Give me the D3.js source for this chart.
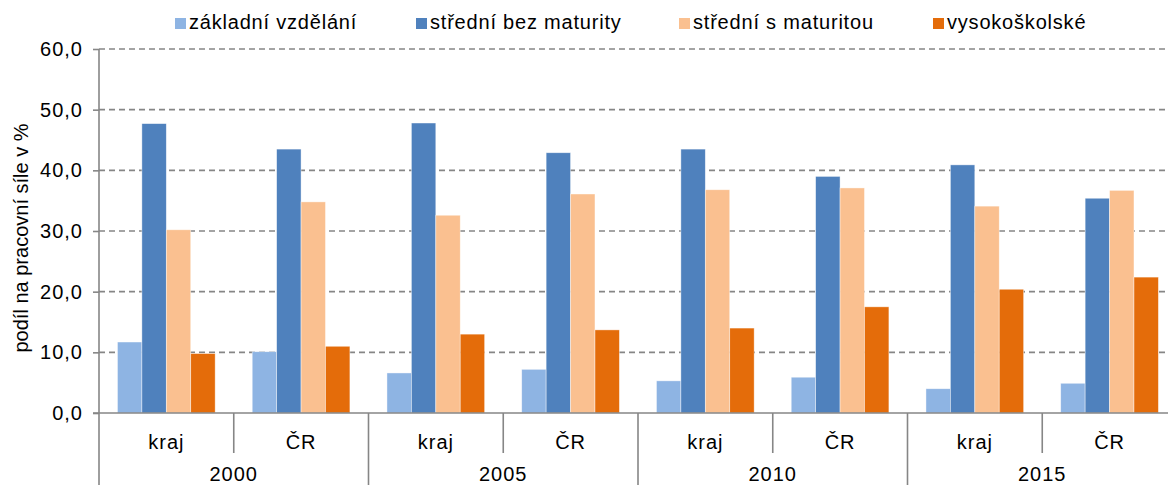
<!DOCTYPE html>
<html>
<head>
<meta charset="utf-8">
<script src="https://cdn.jsdelivr.net/npm/d3@7"></script>
<style>
body { margin: 0; background: #fff; overflow: hidden; }
text { font-family: "Liberation Sans", Arial, sans-serif; fill: #000; }
</style>
</head>
<body>
<svg id="chart"></svg>
<script>
// chart data
var years = ["2000", "2005", "2010", "2015"];
var regions = ["kraj", "ČR"];
var seriesNames = ["základní vzdělání", "střední bez maturity", "střední s maturitou", "vysokoškolské"];
var zakladni = [11.7, 10.1, 6.6, 7.2, 5.3, 5.9, 4.0, 4.9];
var stredniBez = [47.7, 43.5, 47.8, 42.9, 43.5, 39.0, 40.9, 35.4];
var stredniS = [30.2, 34.8, 32.6, 36.1, 36.8, 37.1, 34.1, 36.7];
var vysoko = [9.8, 11.0, 13.0, 13.7, 14.0, 17.5, 20.4, 22.4];
var yTicks = [0, 10, 20, 30, 40, 50, 60];
var colors = ["#8EB4E3", "#4F81BD", "#FAC090", "#E46C0A"];

var allSeries = [zakladni, stredniBez, stredniS, vysoko];

// svg size and plot box (the plot runs past the right edge, like the original crop)
var svgWidth = 1168;
var svgHeight = 485;
var plotLeft = 99, plotRight = 1177, plotTop = 49, plotBottom = 413;
var fontSize = "20px";
var axisGrey = "#868686";

var svg = d3.select("#chart")
    .attr("width", svgWidth)
    .attr("height", svgHeight);

// categories: one per year/region pair
var cats = [];
years.forEach(function (yr) {
    regions.forEach(function (r) { cats.push(yr + "|" + r); });
});

var x0 = d3.scaleBand().domain(cats).range([plotLeft, plotRight]).padding(0);
var bw = x0.bandwidth();
var x1 = d3.scaleBand().domain(d3.range(seriesNames.length))
    .range([bw * 0.137, bw * 0.862]).padding(0);
var y = d3.scaleLinear().domain([0, 60]).range([plotBottom, plotTop]);

// gridlines
svg.append("g").selectAll("line")
    .data(yTicks.filter(function (d) { return d > 0; }))
    .enter().append("line")
    .attr("x1", plotLeft).attr("x2", plotRight)
    .attr("y1", function (d) { return y(d); })
    .attr("y2", function (d) { return y(d); })
    .attr("stroke", axisGrey)
    .attr("stroke-width", 1.6)
    .attr("stroke-dasharray", "6,4");

// bars
var groups = svg.append("g").selectAll("g")
    .data(cats)
    .enter().append("g")
    .attr("transform", function (d) { return "translate(" + x0(d) + ",0)"; });

groups.selectAll("rect")
    .data(function (d, i) {
        return allSeries.map(function (s, k) { return { k: k, v: s[i] }; });
    })
    .enter().append("rect")
    .attr("x", function (d) { return x1(d.k); })
    .attr("width", x1.bandwidth())
    .attr("y", function (d) { return y(d.v); })
    .attr("height", function (d) { return plotBottom - y(d.v); })
    .attr("fill", function (d) { return colors[d.k]; })
    .attr("stroke", "#ffffff")
    .attr("stroke-opacity", 0.6)
    .attr("stroke-width", 0.7);

// y axis
var yAxis = d3.axisLeft(y)
    .tickValues(yTicks)
    .tickSize(6)
    .tickPadding(10)
    .tickFormat(function (d) { return d3.format(".1f")(d).replace(".", ","); });

var yg = svg.append("g")
    .attr("transform", "translate(" + plotLeft + ",0)")
    .call(yAxis);
yg.select(".domain").remove();
yg.selectAll("line").attr("stroke", axisGrey).attr("stroke-width", 1.6);
yg.selectAll("text")
    .style("font-size", fontSize)
    .style("letter-spacing", "1px")
    .style("font-family", "Liberation Sans, Arial, sans-serif")
    .attr("fill", "#000");

// y axis line continues through the category labels
svg.append("line")
    .attr("x1", plotLeft).attr("x2", plotLeft)
    .attr("y1", plotTop).attr("y2", svgHeight)
    .attr("stroke", axisGrey).attr("stroke-width", 1.6);

// x axis baseline
svg.append("line")
    .attr("x1", plotLeft - 6).attr("x2", plotRight)
    .attr("y1", plotBottom).attr("y2", plotBottom)
    .attr("stroke", axisGrey).attr("stroke-width", 1.6);

// separators between kraj / ČR and between years
cats.forEach(function (c, i) {
    if (i === 0) return;
    var isYear = i % regions.length === 0;
    svg.append("line")
        .attr("x1", x0(c)).attr("x2", x0(c))
        .attr("y1", plotBottom).attr("y2", isYear ? svgHeight : plotBottom + 40)
        .attr("stroke", axisGrey).attr("stroke-width", 1.6);
});

// region labels
svg.append("g").selectAll("text")
    .data(cats)
    .enter().append("text")
    .attr("x", function (d) { return x0(d) + bw / 2; })
    .attr("y", 449)
    .attr("text-anchor", "middle")
    .style("font-size", fontSize)
    .style("letter-spacing", "1px")
    .text(function (d) { return d.split("|")[1]; });

// year labels
svg.append("g").selectAll("text")
    .data(years)
    .enter().append("text")
    .attr("x", function (d) { return x0(d + "|" + regions[0]) + bw; })
    .attr("y", 481)
    .attr("text-anchor", "middle")
    .style("font-size", fontSize)
    .style("letter-spacing", "1px")
    .text(function (d) { return d; });

// y axis title
svg.append("text")
    .attr("transform", "translate(28,238) rotate(-90)")
    .attr("text-anchor", "middle")
    .style("font-size", fontSize)
    .text("podíl na pracovní síle v %");

// legend
var legendX = [175, 416, 679, 933];
var legend = svg.append("g").selectAll("g")
    .data(seriesNames)
    .enter().append("g")
    .attr("transform", function (d, i) { return "translate(" + legendX[i] + ",0)"; });
legend.append("rect")
    .attr("x", 0).attr("y", 18)
    .attr("width", 11).attr("height", 11)
    .attr("fill", function (d, i) { return colors[i]; });
legend.append("text")
    .attr("x", 14).attr("y", 29)
    .style("font-size", fontSize)
    .style("letter-spacing", "0.8px")
    .text(function (d) { return d; });
</script>
</body>
</html>
